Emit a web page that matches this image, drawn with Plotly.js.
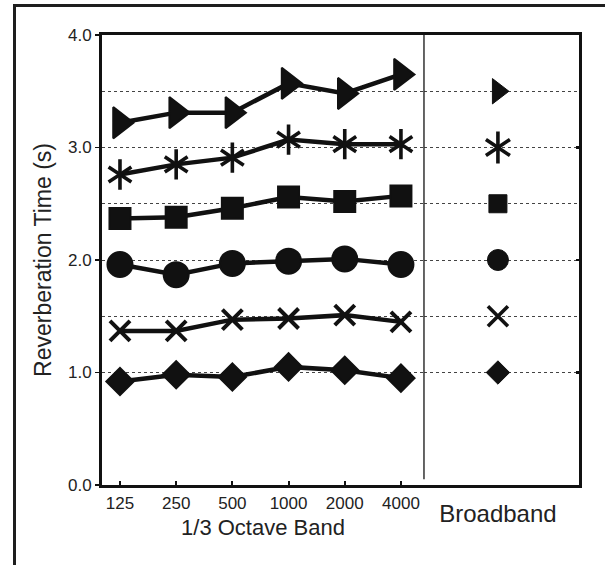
<!DOCTYPE html>
<html>
<head>
<meta charset="utf-8">
<script src="https://cdn.plot.ly/plotly-3.0.1.min.js"></script>
<style>
  html, body { margin: 0; padding: 0; background: #fff; }
  #wrap { position: relative; width: 605px; height: 565px; overflow: hidden; }
  #chart { position: absolute; left: 0; top: 0; width: 605px; height: 565px; }
  #frame { position: absolute; left: 13px; top: 4px; width: 640px; height: 600px;
           border-left: 3px solid #1e1e1e; border-top: 3px solid #1e1e1e; pointer-events: none; }
</style>
</head>
<body>
<div id="wrap">
  <div id="chart"></div>
  <div id="frame"></div>
</div>
<script>
// ---- data ----
const bands = ['125', '250', '500', '1000', '2000', '4000'];
const broadbandLabel = ['Broadband'];

const triangleBands = [3.22, 3.31, 3.31, 3.57, 3.48, 3.65];
const asteriskBands = [2.76, 2.85, 2.91, 3.07, 3.03, 3.03];
const squareBands   = [2.37, 2.38, 2.46, 2.56, 2.52, 2.57];
const circleBands   = [1.96, 1.87, 1.97, 1.99, 2.01, 1.96];
const crossBands    = [1.37, 1.37, 1.47, 1.48, 1.51, 1.45];
const diamondBands  = [0.92, 0.98, 0.96, 1.05, 1.02, 0.95];

const triangleBroadband = [3.5];
const asteriskBroadband = [3.0];
const squareBroadband   = [2.5];
const circleBroadband   = [2.0];
const crossBroadband    = [1.5];
const diamondBroadband  = [1.0];

const yTickVals = [0, 1, 2, 3, 4];
const yHalfGridVals = [1.5, 2.5, 3.5];

// ---- styling ----
const INK = '#111';
const FONT = '"Liberation Sans", Arial, Helvetica, sans-serif';

function bandTrace(y, symbol, size, lw, showLine) {
  return {
    type: 'scatter', mode: showLine ? 'lines+markers' : 'markers',
    x: bands, y: y, xaxis: 'x', yaxis: 'y',
    line: { color: INK, width: 4.5 },
    marker: { symbol: symbol, size: size, color: INK,
              line: { color: INK, width: lw } },
    hoverinfo: 'skip', showlegend: false, cliponaxis: false
  };
}
function bbTrace(y, symbol, size, lw) {
  return {
    type: 'scatter', mode: 'markers',
    x: broadbandLabel, y: y, xaxis: 'x2', yaxis: 'y2',
    marker: { symbol: symbol, size: size, color: INK,
              line: { color: INK, width: lw } },
    hoverinfo: 'skip', showlegend: false, cliponaxis: false
  };
}

const traces = [
  bandTrace(triangleBands, 'triangle-right', 27, 2, true),
  bandTrace(asteriskBands, 'y-up-open', 19, 3.6, true),
  bandTrace(asteriskBands, 'y-down-open', 19, 3.6, false),
  bandTrace(squareBands, 'square', 21, 2, true),
  bandTrace(circleBands, 'circle', 25, 2, true),
  bandTrace(crossBands, 'x-thin-open', 20, 4, true),
  bandTrace(diamondBands, 'diamond', 21, 2, true),

  bbTrace(triangleBroadband, 'triangle-right', 22, 1),
  bbTrace(asteriskBroadband, 'y-up-open', 20, 3.6),
  bbTrace(asteriskBroadband, 'y-down-open', 20, 3.6),
  bbTrace(squareBroadband, 'square', 18, 1),
  bbTrace(circleBroadband, 'circle', 21, 1),
  bbTrace(crossBroadband, 'x-thin-open', 20, 3.6),
  bbTrace(diamondBroadband, 'diamond', 18, 1)
];

const SPLIT = 0.675;
const gridCommon = {
  showgrid: true, gridcolor: '#444', gridwidth: 1, griddash: 'dot',
  minor: { tickmode: 'array', tickvals: yHalfGridVals, showgrid: true,
           gridcolor: '#444', gridwidth: 1, griddash: 'dot', ticks: '' }
};

const layout = {
  width: 605, height: 565,
  margin: { l: 102, r: 26, t: 35, b: 80 },
  paper_bgcolor: '#fff', plot_bgcolor: '#fff',
  font: { family: FONT, color: '#222' },
  showlegend: false,
  xaxis: {
    domain: [0, SPLIT], anchor: 'y', type: 'category',
    categoryorder: 'array', categoryarray: bands,
    range: [-0.32, 5.41],
    showline: true, linecolor: INK, linewidth: 3, mirror: true,
    showgrid: false, zeroline: false,
    ticks: 'inside', ticklen: 4, tickwidth: 2, tickcolor: INK,
    tickfont: { size: 17, family: FONT, color: '#222' },
    ticklabelstandoff: 1,
    title: { text: '1/3 Octave Band', font: { size: 22, family: FONT, color: '#222' }, standoff: 8 }
  },
  xaxis2: {
    domain: [SPLIT, 1], anchor: 'y2', type: 'category',
    categoryarray: broadbandLabel, range: [-0.477, 0.523],
    showline: true, linecolor: INK, linewidth: 3, mirror: true,
    showgrid: false, zeroline: false, ticks: '',
    tickfont: { size: 24, family: FONT, color: '#222' },
    ticklabelstandoff: 5
  },
  yaxis: Object.assign({
    anchor: 'x', side: 'left', range: [0, 4],
    tickmode: 'array', tickvals: yTickVals, tickformat: '.1f',
    showline: true, linecolor: INK, linewidth: 3, zeroline: false,
    ticks: 'outside', ticklen: 4, tickwidth: 1.5, tickcolor: INK,
    tickfont: { size: 17, family: FONT, color: '#222' },
    title: { text: 'Reverberation Time (s)', font: { size: 23, family: FONT, color: '#222' }, standoff: 10 }
  }, gridCommon),
  yaxis2: Object.assign({
    anchor: 'x2', side: 'right', matches: 'y', range: [0, 4],
    tickmode: 'array', tickvals: yTickVals,
    showline: true, linecolor: INK, linewidth: 3, zeroline: false,
    ticks: 'inside', ticklen: 3, tickwidth: 2.5, tickcolor: INK,
    showticklabels: false
  }, gridCommon),
  shapes: [
    { type: 'line', xref: 'x2 domain', yref: 'paper', x0: 0, x1: 0, y0: 0.013, y1: 1,
      line: { color: '#333', width: 1.5 } }
  ]
};

Plotly.newPlot('chart', traces, layout, { staticPlot: true, displayModeBar: false });
</script>
</body>
</html>
